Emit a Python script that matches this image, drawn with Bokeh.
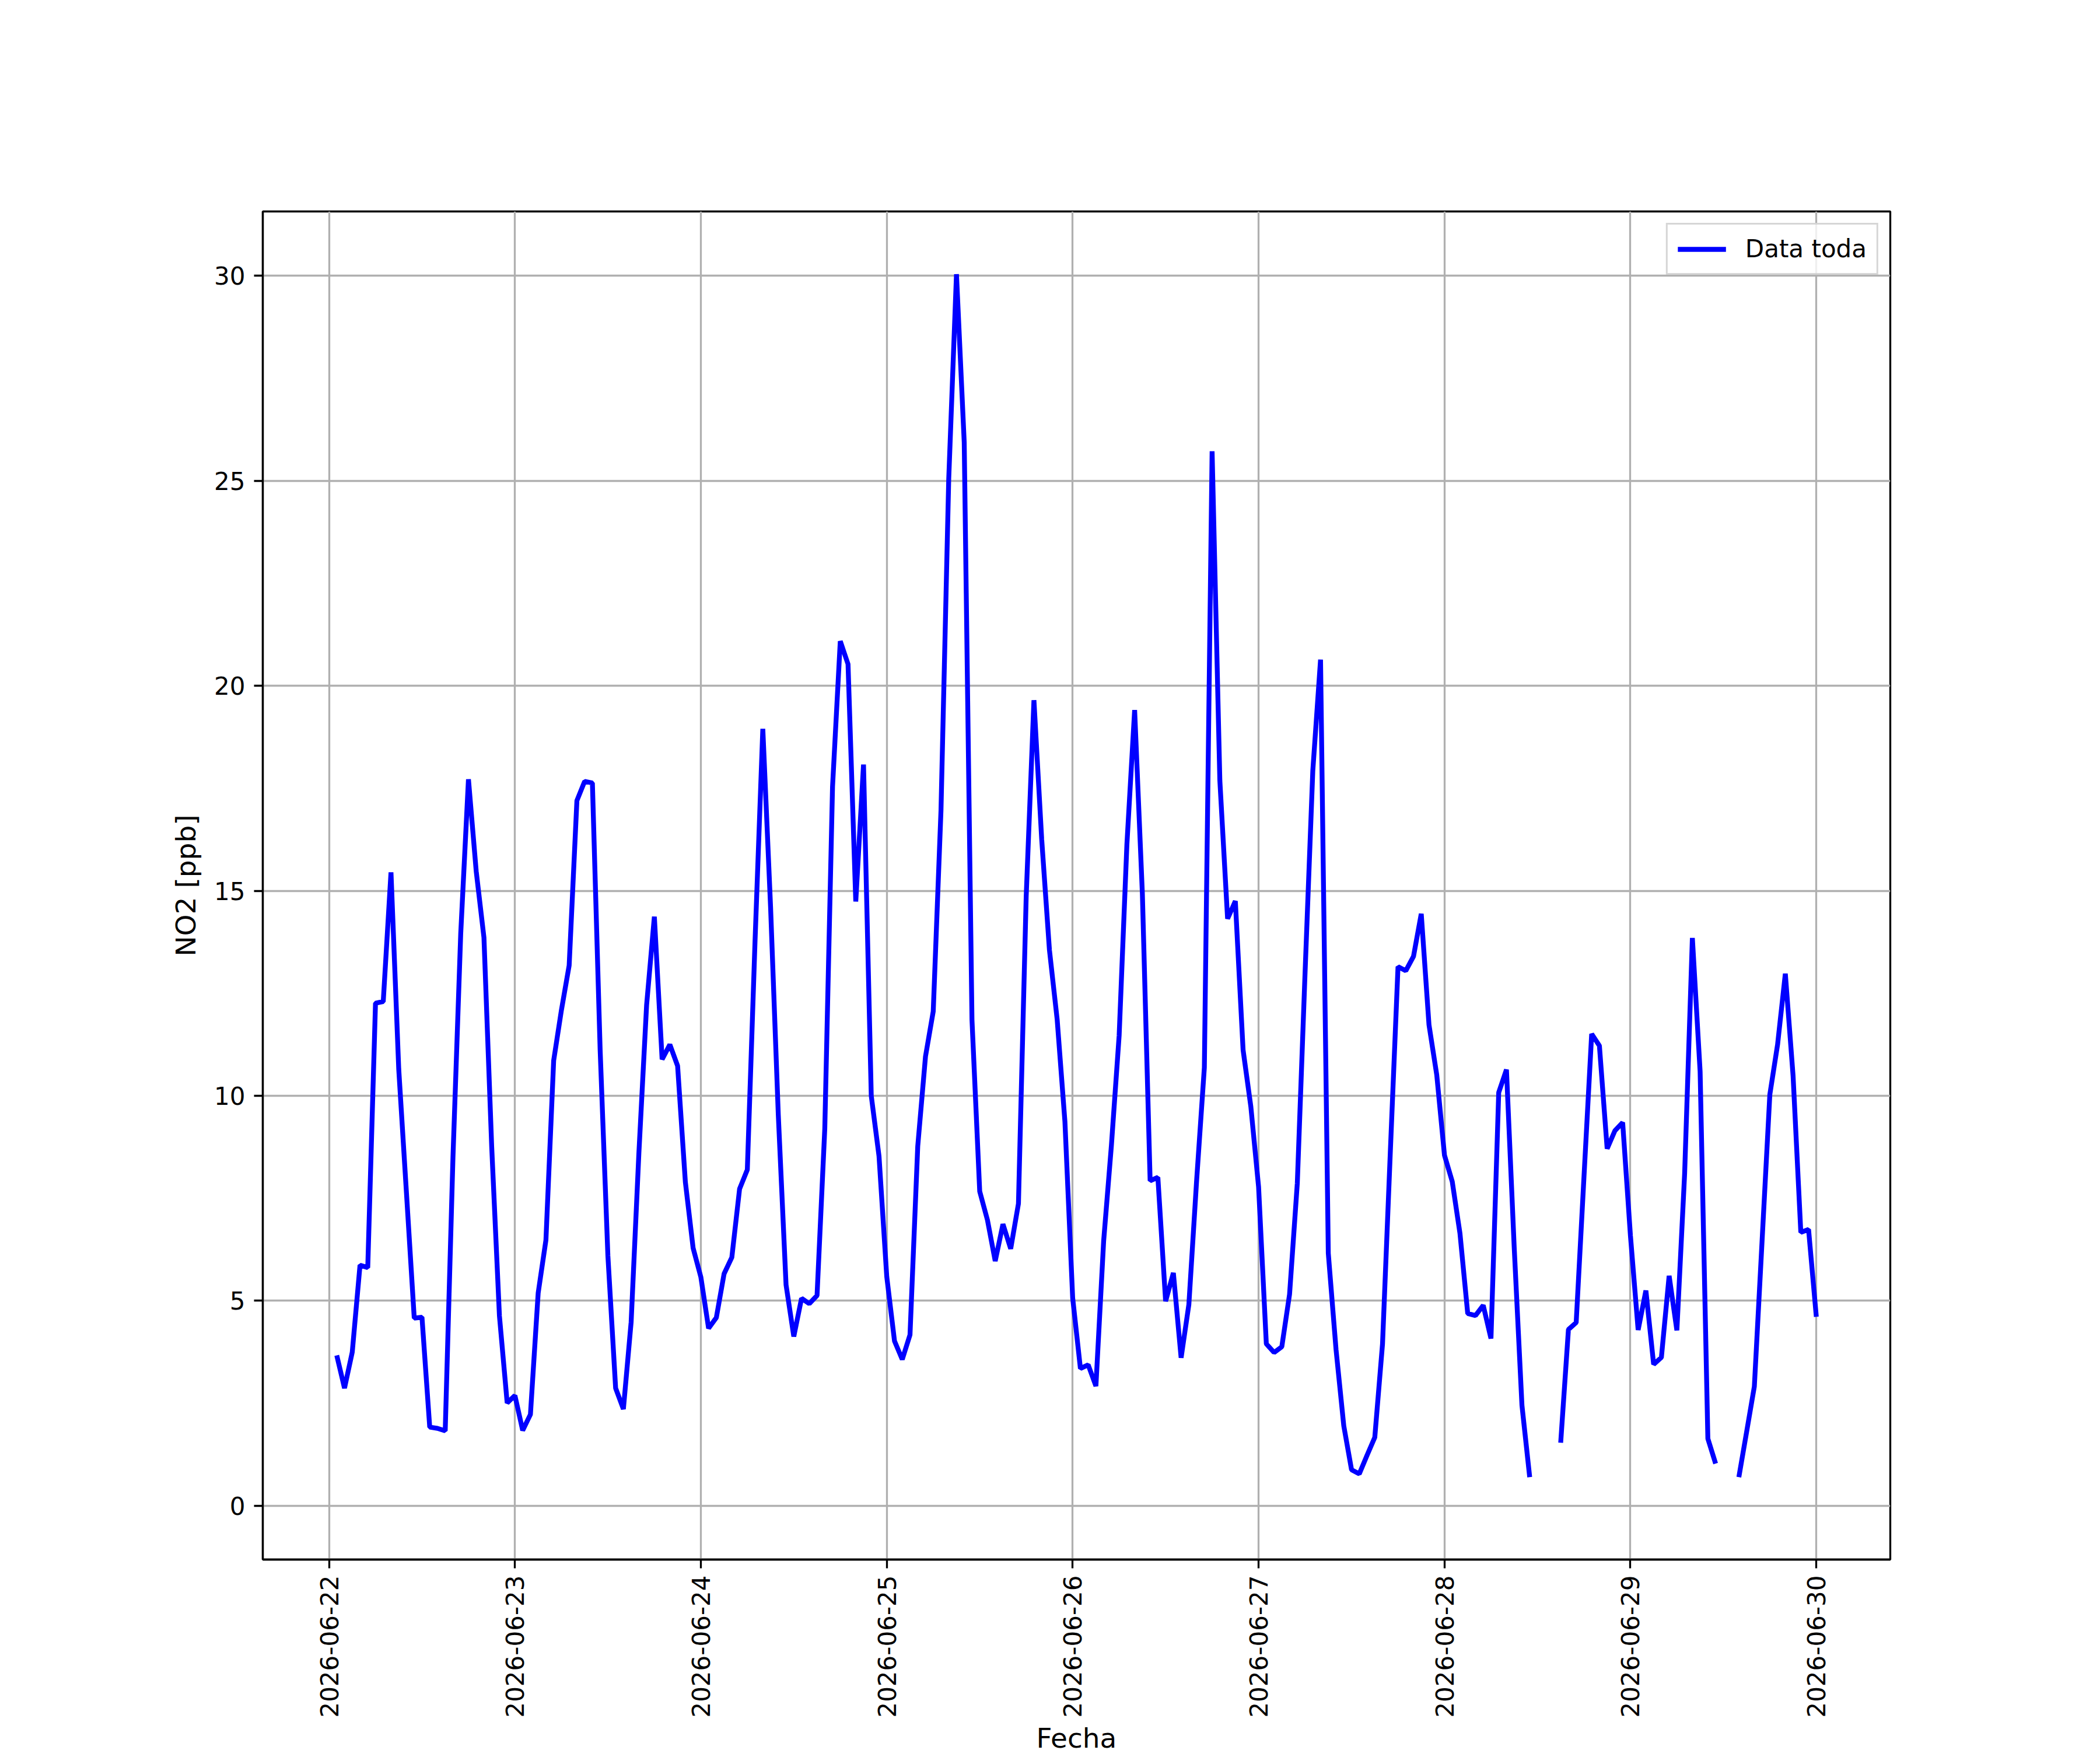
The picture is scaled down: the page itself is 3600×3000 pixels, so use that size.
import numpy as np
import pandas as pd
from bokeh.plotting import figure
from bokeh.models import (Range1d, DaysTicker, DatetimeTickFormatter, SingleIntervalTicker,
                          Legend, LegendItem, ColumnDataSource)
from bokeh.embed import file_html
from bokeh.resources import INLINE

nan = np.nan

# Hourly NO2 values (ppb), starting 2026-06-22 01:00
no2_jun22 = [3.67, 2.87, 3.75, 5.87, 5.81, 12.26, 12.30, 15.45, 10.65, 7.62, 4.58, 4.60,
             1.92, 1.89, 1.83, 8.5, 13.95, 17.72, 15.48, 13.86, 8.76, 4.63, 2.51, 2.69]
no2_jun23 = [1.84, 2.23, 5.19, 6.48, 10.86, 12.09, 13.18, 17.20, 17.67, 17.63, 11.12, 6.10,
             2.87, 2.36, 4.48, 8.6, 12.22, 14.37, 10.89, 11.25, 10.73, 7.90, 6.29, 5.58]
no2_jun24 = [4.33, 4.59, 5.66, 6.06, 7.73, 8.20, 13.8, 18.95, 14.61, 9.53, 5.39, 4.13,
             5.06, 4.93, 5.13, 9.20, 17.54, 21.09, 20.53, 14.74, 18.08, 10.0, 8.53, 5.59]
no2_jun25 = [4.02, 3.57, 4.17, 8.77, 10.96, 12.06, 16.96, 25.04, 30.04, 25.94, 11.86, 7.67,
             6.97, 5.97, 6.87, 6.27, 7.37, 14.86, 19.65, 16.26, 13.56, 11.86, 9.37, 5.07]
no2_jun26 = [3.35, 3.44, 2.92, 6.46, 8.79, 11.47, 16.13, 19.41, 14.92, 7.93, 8.01, 4.99,
             5.68, 3.61, 4.91, 7.93, 10.69, 25.72, 17.69, 14.32, 14.75, 11.12, 9.74, 7.78]
no2_jun27 = [3.95, 3.74, 3.88, 5.16, 7.87, 13.0, 17.93, 20.64, 6.16, 3.81, 1.95, 0.88,
             0.78, 1.23, 1.67, 3.95, 8.6, 13.15, 13.05, 13.40, 14.44, 11.73, 10.51, 8.55]
no2_jun28 = [7.91, 6.64, 4.69, 4.64, 4.89, 4.08, 10.08, 10.64, 6.3, 2.45, 0.70, nan,
             nan, nan, 1.54, 4.30, 4.47, 8.0, 11.51, 11.22, 8.71, 9.15, 9.35, 6.6]
no2_jun29 = [4.29, 5.25, 3.45, 3.62, 5.61, 4.28, 8.10, 13.85, 10.59, 1.64, 1.03, nan,
             nan, 0.70, 1.8, 2.91, 6.47, 10.03, 11.25, 12.98, 10.49, 6.67, 6.74, 4.61]

series_label = "Data toda"
x_label = "Fecha"
y_label = "NO2 [ppb]"
y_limits = (-1.31, 31.57)

values = (no2_jun22 + no2_jun23 + no2_jun24 + no2_jun25 +
          no2_jun26 + no2_jun27 + no2_jun28 + no2_jun29)
times = pd.date_range("2026-06-22 01:00", periods=len(values), freq="h")
src = ColumnDataSource(dict(t=times, v=values))

span = times[-1] - times[0]
x_start = times[0] - 0.05 * span
x_end = times[-1] + 0.05 * span

FONT = "DejaVu Sans"
p = figure(x_axis_type="datetime", output_backend="svg", toolbar_location=None,
           frame_width=2790, frame_height=2311,
           min_border_left=450, min_border_top=362, min_border_right=330, min_border_bottom=300,
           x_range=Range1d(x_start, x_end), y_range=Range1d(*y_limits),
           background_fill_color="white", border_fill_color="white")

r = p.line("t", "v", source=src, line_color="#0000ff", line_width=8.3)

# axes
p.xaxis.ticker = DaysTicker(days=list(range(1, 32)))
p.xaxis.formatter = DatetimeTickFormatter(days="%Y-%m-%d", months="%Y-%m-%d",
                                          hours="%Y-%m-%d", years="%Y-%m-%d")
p.xaxis.major_label_orientation = np.pi / 2
p.yaxis.ticker = SingleIntervalTicker(interval=5)

for ax in (p.xaxis[0], p.yaxis[0]):
    ax.major_label_text_font = FONT
    ax.major_label_text_font_size = "42px"
    ax.major_label_text_color = "black"
    ax.axis_label_text_font = FONT
    ax.axis_label_text_font_size = "47px"
    ax.axis_label_text_font_style = "normal"
    ax.axis_label_text_color = "black"
    ax.axis_line_color = "black"
    ax.axis_line_width = 3.3
    ax.major_tick_line_color = "black"
    ax.major_tick_line_width = 3.3
    ax.major_tick_out = 15
    ax.major_tick_in = 0
    ax.minor_tick_line_color = None
    ax.major_label_standoff = 15

p.xaxis.major_label_standoff = 12
p.xaxis.axis_label = x_label
p.yaxis.axis_label = y_label
p.xaxis.axis_label_standoff = 4
p.yaxis.axis_label_standoff = 18

# grid
for g in (p.xgrid[0], p.ygrid[0]):
    g.grid_line_color = "#b0b0b0"
    g.grid_line_width = 3.3

p.outline_line_color = "black"
p.outline_line_width = 3.3

legend = Legend(items=[LegendItem(label=series_label, renderers=[r])],
                location="top_right", margin=20, padding=17,
                label_text_font=FONT, label_text_font_size="42px", label_text_color="black",
                label_standoff=33, glyph_width=83, glyph_height=42, label_height=42,
                border_line_color="#cccccc", border_line_width=3.3, border_line_alpha=0.8,
                background_fill_color="white", background_fill_alpha=0.8)
p.add_layout(legend)

open("out.html", "w").write(file_html(p, INLINE))
